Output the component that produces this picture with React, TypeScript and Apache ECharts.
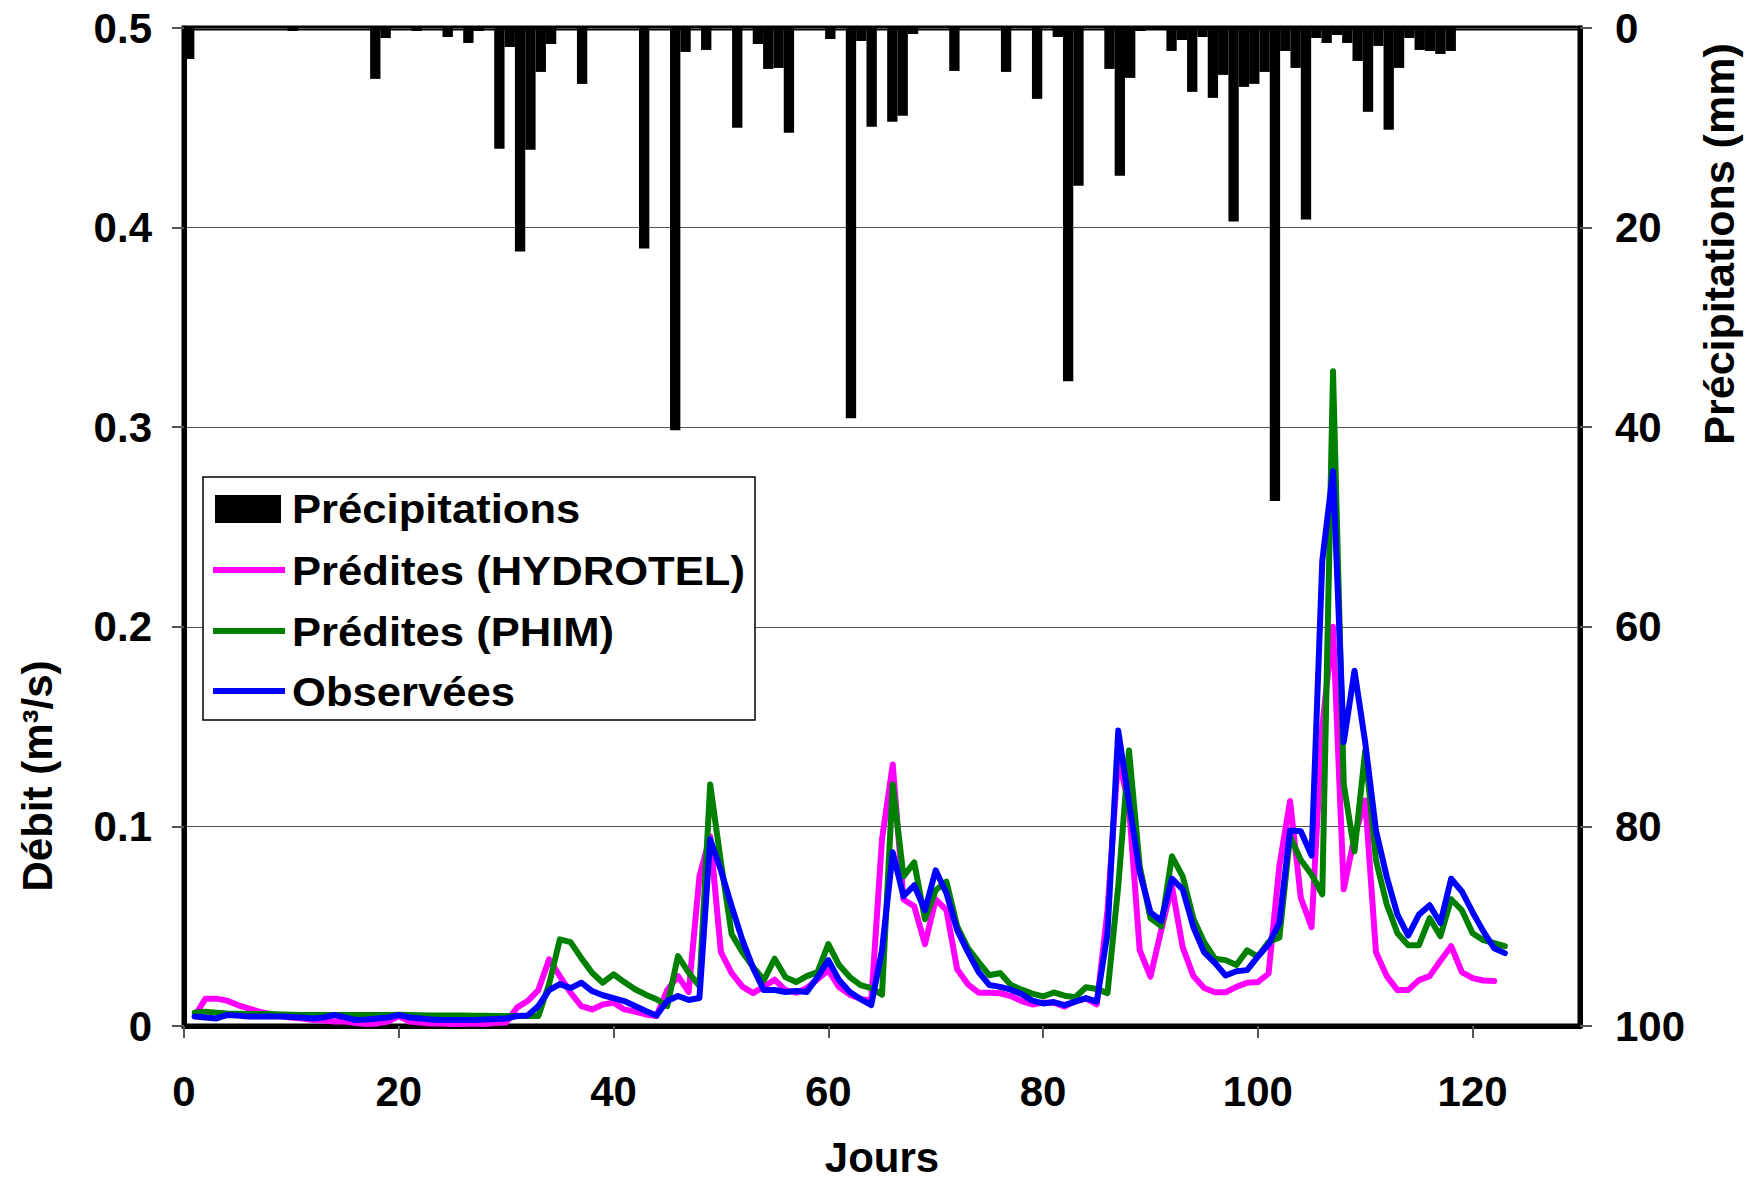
import React, { useEffect, useRef } from "react";
import * as echarts from "echarts";

// Days (x values) for the discharge series
const DAYS = [
  1, 2, 3, 4, 5, 6, 7, 8, 9, 10, 11, 12, 13, 14, 15, 16, 17, 18, 19, 20,
  21, 22, 23, 24, 25, 26, 27, 28, 29, 30, 31, 32, 33, 34, 35, 36, 37, 38, 39, 40,
  41, 42, 43, 44, 45, 46, 47, 48, 49, 50, 51, 52, 53, 54, 55, 56, 57, 58, 59, 60,
  61, 62, 63, 64, 65, 66, 67, 68, 69, 70, 71, 72, 73, 74, 75, 76, 77, 78, 79, 80,
  81, 82, 83, 84, 85, 86, 87, 88, 89, 90, 91, 92, 93, 94, 95, 96, 97, 98, 99, 100,
  101, 102, 103, 104, 105, 106, 107, 108, 109, 110, 111, 112, 113, 114, 115, 116, 117, 118, 119, 120,
  121, 122, 123,
];

// Daily precipitation (mm), days 1..123
const PRECIP = [
  3.1, 0, 0, 0, 0, 0, 0, 0, 0, 0, 0.3, 0, 0, 0, 0, 0, 0, 0, 5.1, 1.0,
  0, 0, 0.3, 0, 0, 0.9, 0, 1.5, 0.3, 0, 12.1, 1.9, 22.4, 12.2, 4.4, 1.6, 0, 0, 5.6, 0,
  0, 0, 0, 0, 22.1, 0, 0, 40.3, 2.4, 0, 2.2, 0, 0, 10.0, 0, 1.6, 4.1, 4.0, 10.5, 0,
  0, 0, 1.1, 0, 39.1, 1.3, 9.9, 0, 9.4, 8.8, 0.6, 0, 0, 0, 4.3, 0, 0, 0, 0, 4.4,
  0, 0, 7.1, 0, 0.9, 35.4, 15.8, 0, 0, 4.1, 14.8, 5.0, 0.3, 0.2, 0.2, 2.3, 1.2, 6.4, 0.9, 7.0,
  4.7, 19.4, 5.9, 5.6, 4.4, 47.4, 2.3, 4.0, 19.2, 1.0, 1.5, 0.7, 1.5, 3.3, 8.4, 1.8, 10.2, 4.0, 1.0, 2.2,
  2.3, 2.6, 2.3,
];

// Number of column slots of the (hidden) precipitation category axis
const PRECIP_SLOTS = 135;

// Predicted discharge HYDROTEL (m3/s), days 1..122
const HYDROTEL = [
  0.005, 0.0137, 0.0137, 0.0127, 0.0105, 0.0088, 0.0072, 0.006, 0.005, 0.0043,
  0.0037, 0.003, 0.0027, 0.0023, 0.0022, 0.0015, 0.001, 0.0013, 0.0022, 0.005,
  0.0022, 0.0017, 0.0013, 0.0013, 0.001, 0.001, 0.0013, 0.001, 0.0015, 0.0017,
  0.0092, 0.0125, 0.018, 0.0334, 0.025, 0.0167, 0.01, 0.0083, 0.0108, 0.0117,
  0.0083, 0.0072, 0.0058, 0.005, 0.018, 0.025, 0.017, 0.075, 0.095, 0.037,
  0.0265, 0.0197, 0.0165, 0.0197, 0.0232, 0.018, 0.0167, 0.019, 0.0235, 0.028,
  0.0195, 0.0157, 0.0135, 0.0128, 0.0935, 0.131, 0.0634, 0.06, 0.041, 0.0634,
  0.058, 0.0284, 0.0209, 0.0167, 0.0167, 0.0164, 0.015, 0.0125, 0.0108, 0.0117,
  0.0117, 0.0097, 0.0125, 0.0137, 0.0108, 0.058, 0.135, 0.11, 0.038, 0.0247,
  0.048, 0.07, 0.0395, 0.025, 0.019, 0.0169, 0.0169, 0.0196, 0.0217, 0.022,
  0.0263, 0.08, 0.1127, 0.0643, 0.0495, 0.15, 0.2, 0.0685, 0.095, 0.113,
  0.037, 0.025, 0.018, 0.018, 0.023, 0.025, 0.0327, 0.04, 0.027, 0.024,
  0.0228, 0.0225,
];

// Predicted discharge PHIM (m3/s), days 1..123
const PHIM = [
  0.0067, 0.0072, 0.0067, 0.0063, 0.0062, 0.006, 0.006, 0.006, 0.0058, 0.0056,
  0.0055, 0.0055, 0.0055, 0.0055, 0.0055, 0.0055, 0.0055, 0.0055, 0.0055, 0.0056,
  0.0055, 0.0054, 0.0053, 0.0053, 0.0052, 0.0052, 0.0051, 0.0051, 0.005, 0.005,
  0.005, 0.005, 0.005, 0.021, 0.0434, 0.042, 0.034, 0.0267, 0.0217, 0.0259,
  0.022, 0.0184, 0.0157, 0.0134, 0.01, 0.035, 0.0267, 0.02, 0.121, 0.082,
  0.046, 0.037, 0.0295, 0.023, 0.0337, 0.0245, 0.022, 0.025, 0.027, 0.041,
  0.0305, 0.0245, 0.0205, 0.019, 0.0157, 0.121, 0.075, 0.082, 0.0535, 0.068,
  0.0723, 0.05, 0.039, 0.032, 0.0254, 0.0265, 0.0205, 0.0182, 0.0162, 0.0148,
  0.0168, 0.0152, 0.0144, 0.0194, 0.0185, 0.0165, 0.07, 0.138, 0.08, 0.054,
  0.05, 0.085, 0.075, 0.0537, 0.042, 0.0337, 0.033, 0.0306, 0.0379, 0.0348,
  0.042, 0.0443, 0.0948, 0.0832, 0.0759, 0.066, 0.328, 0.121, 0.0875, 0.138,
  0.083, 0.061, 0.0465, 0.0405, 0.0405, 0.054, 0.045, 0.0635, 0.058, 0.0465,
  0.043, 0.0415, 0.04,
];

// Observed discharge (m3/s), days 1..123
const OBSERVED = [
  0.0047, 0.0043, 0.0038, 0.0055, 0.0052, 0.0047, 0.0047, 0.0047, 0.0047, 0.0045,
  0.0043, 0.0038, 0.0043, 0.0055, 0.0043, 0.003, 0.0033, 0.0038, 0.0043, 0.0055,
  0.0043, 0.0038, 0.0033, 0.003, 0.003, 0.003, 0.003, 0.0032, 0.0035, 0.0037,
  0.005, 0.0053, 0.01, 0.018, 0.021, 0.019, 0.0217, 0.0175, 0.0154, 0.014,
  0.0125, 0.01, 0.0075, 0.0053, 0.0125, 0.015, 0.013, 0.014, 0.0935, 0.078,
  0.06, 0.043, 0.029, 0.018, 0.018, 0.017, 0.0175, 0.017, 0.0245, 0.033,
  0.023, 0.017, 0.0135, 0.0105, 0.038, 0.087, 0.065, 0.0705, 0.058, 0.078,
  0.0665, 0.048, 0.037, 0.027, 0.0205, 0.0196, 0.0182, 0.016, 0.0127, 0.0113,
  0.012, 0.0105, 0.0122, 0.014, 0.0122, 0.0465, 0.148, 0.112, 0.077, 0.057,
  0.0527, 0.0738, 0.0685, 0.0495, 0.0369, 0.0316, 0.0253, 0.0274, 0.028, 0.0348,
  0.041, 0.0516, 0.098, 0.0976, 0.0854, 0.233, 0.278, 0.1422, 0.178, 0.142,
  0.098, 0.0748, 0.0558, 0.0453, 0.0558, 0.0605, 0.0516, 0.0738, 0.0674, 0.057,
  0.0474, 0.039, 0.0365,
];

const X_TICKS = [0, 20, 40, 60, 80, 100, 120];

const SERIES_NAMES = ["Précipitations", "Prédites (HYDROTEL)", "Prédites (PHIM)", "Observées"];
const SERIES_COLORS = ["#000000", "#ff00ff", "#008000", "#0000ff"];

const FONT = "'Liberation Sans', Arial, Helvetica, sans-serif";

function pairs(xs: number[], ys: number[]) {
  return ys.map((y, i) => [xs[i], y]);
}

export default function App() {
  const ref = useRef<HTMLDivElement>(null);

  useEffect(() => {
    if (!ref.current) return;
    const chart = echarts.init(ref.current, null, { renderer: "svg" });
    const slots = Array.from({ length: PRECIP_SLOTS }, (_, i) => String(i + 1));
    const lbl = { fontFamily: FONT, fontWeight: "bold" as const, fontSize: 42, color: "#000" };
    const tick = { show: true, inside: false, length: 12, lineStyle: { color: "#555", width: 2 } };
    const axLine = { show: true, onZero: false, lineStyle: { color: "#000", width: 5 } };

    const legendRows = [509, 571, 632, 692];
    const lineW = 6;

    const titleStyle = (text: string, size: number) => ({
      text,
      fontFamily: FONT,
      fontWeight: "bold",
      fontSize: size,
      fill: "#000",
      align: "center",
      verticalAlign: "middle",
    });

    chart.setOption({
      animation: false,
      backgroundColor: "#ffffff",
      grid: {
        left: 184,
        right: 171,
        top: 28,
        bottom: 156,
        show: true,
        borderColor: "#000",
        borderWidth: 5,
        backgroundColor: "transparent",
        containLabel: false,
        outerBoundsMode: "none",
      },
      xAxis: [
        {
          type: "value",
          min: 0,
          max: 130,
          interval: 20,
          position: "bottom",
          axisLine: axLine,
          axisTick: { ...tick, customValues: X_TICKS },
          axisLabel: { ...lbl, margin: 44, customValues: X_TICKS, formatter: (v: number) => String(v) },
          splitLine: { show: false },
        },
        {
          type: "category",
          data: slots,
          show: false,
          boundaryGap: true,
          position: "top",
        },
      ],
      yAxis: [
        {
          type: "value",
          min: 0,
          max: 0.5,
          interval: 0.1,
          position: "left",
          axisLine: axLine,
          axisTick: tick,
          axisLabel: {
            ...lbl,
            margin: 32,
            formatter: (v: number) => (v === 0 ? "0" : v.toFixed(1)),
          },
          splitLine: { show: true, lineStyle: { color: "#555", width: 1 } },
        },
        {
          type: "value",
          min: 0,
          max: 100,
          interval: 20,
          inverse: true,
          position: "right",
          axisLine: axLine,
          axisTick: tick,
          axisLabel: { ...lbl, margin: 35, formatter: (v: number) => String(v) },
          splitLine: { show: false },
        },
      ],
      series: [
        {
          name: SERIES_NAMES[0],
          type: "bar",
          xAxisIndex: 1,
          yAxisIndex: 1,
          data: PRECIP,
          barCategoryGap: "0%",
          itemStyle: { color: SERIES_COLORS[0] },
          z: 1,
        },
        {
          name: SERIES_NAMES[1],
          type: "line",
          xAxisIndex: 0,
          yAxisIndex: 0,
          data: pairs(DAYS, HYDROTEL),
          symbol: "none",
          lineStyle: { color: SERIES_COLORS[1], width: lineW, cap: "round", join: "round" },
          z: 3,
        },
        {
          name: SERIES_NAMES[2],
          type: "line",
          xAxisIndex: 0,
          yAxisIndex: 0,
          data: pairs(DAYS, PHIM),
          symbol: "none",
          lineStyle: { color: SERIES_COLORS[2], width: lineW, cap: "round", join: "round" },
          z: 4,
        },
        {
          name: SERIES_NAMES[3],
          type: "line",
          xAxisIndex: 0,
          yAxisIndex: 0,
          data: pairs(DAYS, OBSERVED),
          symbol: "none",
          lineStyle: { color: SERIES_COLORS[3], width: lineW, cap: "round", join: "round" },
          z: 5,
        },
      ],
      graphic: [
        {
          type: "rect",
          z: 100,
          shape: { x: 203, y: 477, width: 552, height: 243 },
          style: { fill: "#fff", stroke: "#000", lineWidth: 1.5 },
        },
        {
          type: "rect",
          z: 101,
          shape: { x: 215, y: legendRows[0] - 14, width: 66, height: 28 },
          style: { fill: SERIES_COLORS[0] },
        },
        ...[1, 2, 3].map((k) => ({
          type: "line",
          z: 101,
          shape: { x1: 213, y1: legendRows[k] - 1, x2: 285, y2: legendRows[k] - 1 },
          style: { stroke: SERIES_COLORS[k], lineWidth: lineW },
        })),
        ...SERIES_NAMES.map((name, k) => ({
          type: "text",
          z: 101,
          x: 292,
          y: legendRows[k],
          scaleX: 1.09,
          style: {
            text: name,
            fontFamily: FONT,
            fontWeight: "bold",
            fontSize: 40,
            fill: "#000",
            align: "left",
            verticalAlign: "middle",
          },
        })),
        {
          type: "text",
          z: 101,
          x: 37,
          y: 776,
          rotation: Math.PI / 2,
          style: titleStyle("Débit (m³/s)", 42),
        },
        {
          type: "text",
          z: 101,
          x: 1719,
          y: 244,
          rotation: Math.PI / 2,
          style: titleStyle("Précipitations (mm)", 43),
        },
        {
          type: "text",
          z: 101,
          x: 882,
          y: 1157,
          style: titleStyle("Jours", 42),
        },
      ],
    });

    return () => {
      chart.dispose();
    };
  }, []);

  return (
    <div
      ref={ref}
      style={{ position: "absolute", left: 0, top: 0, width: 1751, height: 1182, background: "#fff" }}
    />
  );
}
